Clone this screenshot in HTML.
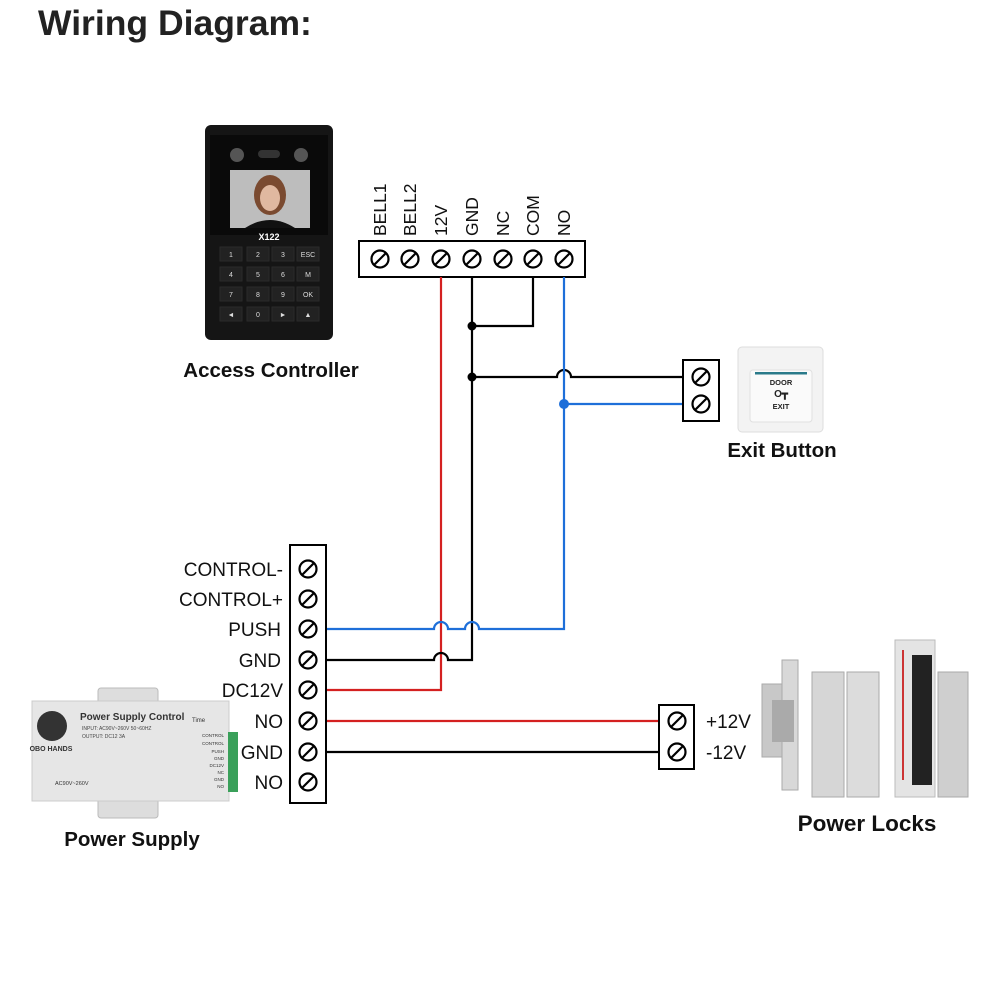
<!DOCTYPE html>
<html><head><meta charset="utf-8"><style>
html,body{margin:0;padding:0;background:#fff;}
svg{display:block;}
text{font-family:"Liberation Sans",Arial,sans-serif;}
</style></head><body>
<svg width="1000" height="1000" viewBox="0 0 1000 1000" xmlns="http://www.w3.org/2000/svg">
<defs>
<g id="sc"><circle r="8.5" fill="#fff" stroke="#000" stroke-width="2.2"/><line x1="-5.5" y1="5.5" x2="5.5" y2="-5.5" stroke="#000" stroke-width="2.2"/></g>
</defs>
<rect width="1000" height="1000" fill="#fff"/>
<text x="38" y="35" font-size="35.5" font-weight="bold" fill="#222">Wiring Diagram:</text>

<!-- Access controller -->
<rect x="205" y="125" width="128" height="215" rx="6" fill="#151515"/>
<rect x="210" y="135" width="118" height="100" fill="#0a0a0a"/>
<circle cx="237" cy="155" r="7" fill="#555"/><circle cx="301" cy="155" r="7" fill="#555"/>
<rect x="258" y="150" width="22" height="8" rx="4" fill="#333"/>
<rect x="230" y="170" width="80" height="58" fill="#bdbdbd"/>
<ellipse cx="270" cy="195" rx="16" ry="20" fill="#7a4a30"/>
<ellipse cx="270" cy="198" rx="10" ry="13" fill="#e0b8a0"/>
<path d="M245 228 Q270 212 295 228 Z" fill="#111"/>
<text x="269" y="240" font-size="9" font-weight="bold" fill="#fff" text-anchor="middle">X122</text>
<g fill="#222" stroke="#2a2a2a">
<rect x="220" y="247" width="22" height="14"/><rect x="247" y="247" width="22" height="14"/><rect x="272" y="247" width="22" height="14"/><rect x="297" y="247" width="22" height="14"/>
<rect x="220" y="267" width="22" height="14"/><rect x="247" y="267" width="22" height="14"/><rect x="272" y="267" width="22" height="14"/><rect x="297" y="267" width="22" height="14"/>
<rect x="220" y="287" width="22" height="14"/><rect x="247" y="287" width="22" height="14"/><rect x="272" y="287" width="22" height="14"/><rect x="297" y="287" width="22" height="14"/>
<rect x="220" y="307" width="22" height="14"/><rect x="247" y="307" width="22" height="14"/><rect x="272" y="307" width="22" height="14"/><rect x="297" y="307" width="22" height="14"/>
</g>
<g font-size="7" fill="#ddd" text-anchor="middle">
<text x="231" y="257">1</text><text x="258" y="257">2</text><text x="283" y="257">3</text><text x="308" y="257">ESC</text>
<text x="231" y="277">4</text><text x="258" y="277">5</text><text x="283" y="277">6</text><text x="308" y="277">M</text>
<text x="231" y="297">7</text><text x="258" y="297">8</text><text x="283" y="297">9</text><text x="308" y="297">OK</text>
<text x="231" y="317">◄</text><text x="258" y="317">0</text><text x="283" y="317">►</text><text x="308" y="317">▲</text>
</g>
<text x="271" y="377" font-size="20.5" font-weight="bold" fill="#111" text-anchor="middle">Access Controller</text>

<!-- Top terminal block -->
<rect x="359" y="241" width="226" height="36" fill="#fff" stroke="#000" stroke-width="2"/>
<g font-size="17.5" fill="#111">
<text transform="translate(386,236) rotate(-90)">BELL1</text>
<text transform="translate(416,236) rotate(-90)">BELL2</text>
<text transform="translate(447,236) rotate(-90)">12V</text>
<text transform="translate(478,236) rotate(-90)">GND</text>
<text transform="translate(509,236) rotate(-90)">NC</text>
<text transform="translate(539,236) rotate(-90)">COM</text>
<text transform="translate(570,236) rotate(-90)">NO</text>
</g>

<!-- Wires -->
<g fill="none" stroke-width="2.2">
<path d="M441 277 V690 H326" stroke="#d42020"/>
<path d="M472 277 V660 H448 A7 7 0 0 0 434 660 H326" stroke="#000"/>
<path d="M533 277 V326 H472" stroke="#000"/>
<path d="M472 377 H557 A7 7 0 0 1 571 377 H683" stroke="#000"/>
<path d="M564 277 V629 H479 A7 7 0 0 0 465 629 H448 A7 7 0 0 0 434 629 H326" stroke="#1e6fd9"/>
<path d="M564 404 H683" stroke="#1e6fd9"/>
<path d="M326 721 H659" stroke="#d42020"/>
<path d="M326 752 H659" stroke="#000"/>
</g>
<circle cx="472" cy="326" r="4.5" fill="#000"/>
<circle cx="472" cy="377" r="4.5" fill="#000"/>
<circle cx="564" cy="404" r="5" fill="#1e6fd9"/>

<g>
<use href="#sc" x="380" y="259"/><use href="#sc" x="410" y="259"/><use href="#sc" x="441" y="259"/><use href="#sc" x="472" y="259"/><use href="#sc" x="503" y="259"/><use href="#sc" x="533" y="259"/><use href="#sc" x="564" y="259"/>
</g>

<!-- Exit button terminal -->
<rect x="683" y="360" width="36" height="61" fill="#fff" stroke="#000" stroke-width="2"/>
<use href="#sc" x="701" y="377"/><use href="#sc" x="701" y="404"/>
<rect x="738" y="347" width="85" height="85" rx="4" fill="#f3f3f3" stroke="#ddd"/>
<rect x="750" y="370" width="62" height="52" rx="3" fill="#fafafa" stroke="#e0e0e0"/>
<rect x="755" y="372" width="52" height="2.5" fill="#2a7a8a"/>
<text x="781" y="385" font-size="7.5" font-weight="bold" text-anchor="middle" fill="#222">DOOR</text>
<text x="781" y="397" font-size="10" font-weight="bold" text-anchor="middle" fill="#222">O┳</text>
<text x="781" y="409" font-size="7.5" font-weight="bold" text-anchor="middle" fill="#222">EXIT</text>
<text x="782" y="457" font-size="20.5" font-weight="bold" fill="#111" text-anchor="middle">Exit Button</text>

<!-- Left terminal block -->
<rect x="290" y="545" width="36" height="258" fill="#fff" stroke="#000" stroke-width="2"/>
<g>
<use href="#sc" x="308" y="569"/><use href="#sc" x="308" y="599"/><use href="#sc" x="308" y="629"/><use href="#sc" x="308" y="660"/><use href="#sc" x="308" y="690"/><use href="#sc" x="308" y="721"/><use href="#sc" x="308" y="752"/><use href="#sc" x="308" y="782"/>
</g>
<g font-size="19" fill="#111" text-anchor="end">
<text x="283" y="576">CONTROL-</text>
<text x="283" y="606">CONTROL+</text>
<text x="281" y="636">PUSH</text>
<text x="281" y="667">GND</text>
<text x="283" y="697">DC12V</text>
<text x="283" y="728">NO</text>
<text x="283" y="759">GND</text>
<text x="283" y="789">NO</text>
</g>

<!-- Power supply -->
<rect x="98" y="688" width="60" height="20" rx="3" fill="#ddd" stroke="#bbb"/>
<rect x="98" y="798" width="60" height="20" rx="3" fill="#ddd" stroke="#bbb"/>
<rect x="32" y="701" width="197" height="100" fill="#e6e6e6" stroke="#ccc"/>
<rect x="228" y="732" width="10" height="60" fill="#3aa05a"/>
<circle cx="52" cy="726" r="15" fill="#333"/>
<text x="51" y="751" font-size="7" font-weight="bold" fill="#333" text-anchor="middle">OBO HANDS</text>
<text x="80" y="720" font-size="10" font-weight="bold" fill="#333">Power Supply Control</text>
<text x="82" y="730" font-size="5" fill="#444">INPUT: AC90V~260V 50~60HZ</text>
<text x="82" y="738" font-size="5" fill="#444">OUTPUT: DC12 3A</text>
<text x="192" y="722" font-size="6" fill="#333">Time</text>
<g font-size="4.5" fill="#333" text-anchor="end">
<text x="224" y="737">CONTROL</text><text x="224" y="745">CONTROL</text><text x="224" y="753">PUSH</text><text x="224" y="760">GND</text><text x="224" y="767">DC12V</text><text x="224" y="774">NC</text><text x="224" y="781">GND</text><text x="224" y="788">NO</text>
</g>
<text x="55" y="785" font-size="5.5" fill="#333">AC90V~260V</text>
<text x="132" y="846" font-size="20.5" font-weight="bold" fill="#111" text-anchor="middle">Power Supply</text>

<!-- Locks terminal -->
<rect x="659" y="705" width="35" height="64" fill="#fff" stroke="#000" stroke-width="2"/>
<use href="#sc" x="677" y="721"/><use href="#sc" x="677" y="752"/>
<text x="706" y="728" font-size="19" fill="#111">+12V</text>
<text x="706" y="759" font-size="19" fill="#111">-12V</text>

<!-- Power locks -->
<rect x="762" y="684" width="20" height="73" fill="#c8c8c8" stroke="#aaa"/>
<rect x="782" y="660" width="16" height="130" fill="#d8d8d8" stroke="#aaa"/>
<rect x="772" y="700" width="22" height="42" fill="#aaa"/>
<rect x="812" y="672" width="32" height="125" fill="#d6d6d6" stroke="#aaa"/>
<rect x="847" y="672" width="32" height="125" fill="#dcdcdc" stroke="#aaa"/>
<rect x="895" y="640" width="40" height="157" fill="#e4e4e4" stroke="#bbb"/>
<rect x="912" y="655" width="20" height="130" fill="#222"/>
<line x1="903" y1="650" x2="903" y2="780" stroke="#c33" stroke-width="2"/>
<rect x="938" y="672" width="30" height="125" fill="#cfcfcf" stroke="#aaa"/>
<text x="867" y="831" font-size="22.5" font-weight="bold" fill="#111" text-anchor="middle">Power Locks</text>
</svg>
</body></html>
